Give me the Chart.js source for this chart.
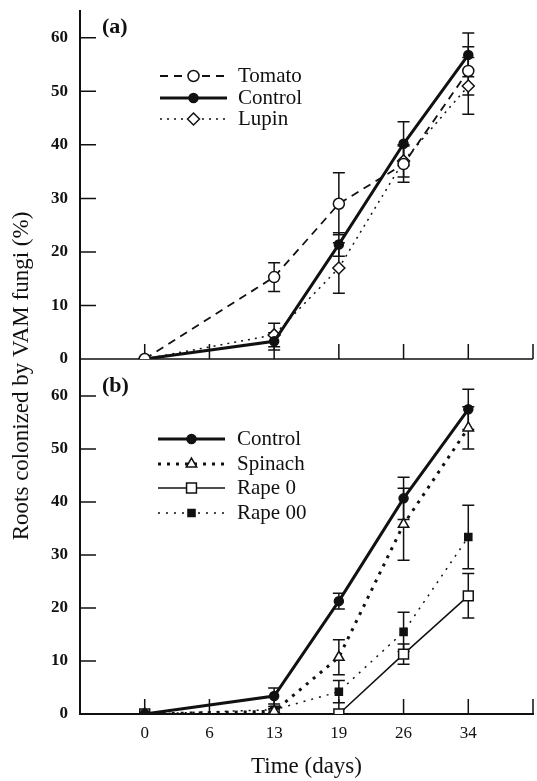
<!DOCTYPE html>
<html>
<head>
<meta charset="utf-8">
<script src="https://cdn.jsdelivr.net/npm/chart.js@4.4.0/dist/chart.umd.min.js"></script>
<style>
  html, body { margin: 0; padding: 0; background: #fff; }
</style>
</head>
<body>
<canvas id="vamChart" width="537" height="781"></canvas>
<script>
// x axis: days are spaced evenly, so each day gets an index slot
const dayLabels = ['0', '6', '13', '19', '26', '34'];
const sampleSlots = [0, 2, 3, 4, 5]; // slots of days 0, 13, 19, 26, 34

// panel (a)
const tomato = [0, 15.3, 29, 36.4, 53.8];
const tomatoErr = [0, 2.7, 5.8, 3.4, 4.5];
const controlA = [0, 3.3, 21.4, 40.2, 56.8];
const controlAErr = [0, 1.6, 2.2, 4.1, 4.1];
const lupin = [0, 4.5, 17, 37, 51];
const lupinErr = [0, 2.2, 4.7, 3, 5.3];

// panel (b)
const controlB = [0, 3.4, 21.3, 40.7, 57.5];
const controlBErr = [0, 1.5, 1.5, 4, 3.8];
const spinach = [0, 0.5, 10.7, 35.8, 54];
const spinachErr = [0, 0.5, 3.3, 6.8, 4];
const rape0 = [0, 0, 0, 11.3, 22.3];
const rape0Err = [0, 0, 0, 1.9, 4.2];
const rape00 = [0, 0.8, 4.2, 15.5, 33.4];
const rape00Err = [0, 0.6, 2.1, 3.7, 6];

const INK = '#111';
const SERIF = "'Liberation Serif', 'DejaVu Serif', serif";

const toPoints = values => values.map((v, i) => ({ x: sampleSlots[i], y: v }));

function series(label, values, errors, axis, style) {
    return Object.assign({
        label: label,
        data: toPoints(values),
        errors: errors,
        yAxisID: axis,
        borderColor: INK,
        pointBorderColor: INK,
        pointBorderWidth: 1.5,
        tension: 0,
    }, style);
}

const datasets = [
    series('Tomato', tomato, tomatoErr, 'yA', {
        borderWidth: 1.8, borderDash: [8, 6], pointStyle: 'circle', pointRadius: 5.5, pointBackgroundColor: '#fff',
    }),
    series('Control', controlA, controlAErr, 'yA', {
        borderWidth: 3, pointStyle: 'circle', pointRadius: 4.5, pointBackgroundColor: INK,
    }),
    series('Lupin', lupin, lupinErr, 'yA', {
        borderWidth: 1.5, borderDash: [2, 5], pointStyle: 'rectRot', pointRadius: 6, pointBackgroundColor: '#fff',
    }),
    series('Control', controlB, controlBErr, 'yB', {
        borderWidth: 3, pointStyle: 'circle', pointRadius: 4.5, pointBackgroundColor: INK,
    }),
    series('Spinach', spinach, spinachErr, 'yB', {
        borderWidth: 3, borderDash: [3, 6], pointStyle: 'triangle', pointRadius: 6, pointBackgroundColor: '#fff',
    }),
    series('Rape 0', rape0, rape0Err, 'yB', {
        borderWidth: 1.5, pointStyle: 'rect', pointRadius: 7, pointBackgroundColor: '#fff',
    }),
    series('Rape 00', rape00, rape00Err, 'yB', {
        borderWidth: 1.5, borderDash: [2, 6], pointStyle: 'rect', pointRadius: 5, pointBackgroundColor: INK,
    }),
];

// error bars with caps, drawn under the markers
const errorBars = {
    id: 'errorBars',
    beforeDatasetsDraw(chart) {
        const ctx = chart.ctx;
        ctx.save();
        ctx.strokeStyle = INK;
        ctx.lineWidth = 1.5;
        chart.data.datasets.forEach((ds, i) => {
            const meta = chart.getDatasetMeta(i);
            const yScale = chart.scales[ds.yAxisID];
            ds.errors.forEach((e, j) => {
                if (!e) return;
                const px = meta.data[j].x;
                const v = ds.data[j].y;
                const top = yScale.getPixelForValue(v + e);
                const bot = yScale.getPixelForValue(v - e);
                ctx.beginPath();
                ctx.moveTo(px, top); ctx.lineTo(px, bot);
                ctx.moveTo(px - 6, top); ctx.lineTo(px + 6, top);
                ctx.moveTo(px - 6, bot); ctx.lineTo(px + 6, bot);
                ctx.stroke();
            });
        });
        ctx.restore();
    }
};

// inward tick marks, and the x axis of panel (a)
const innerTicks = {
    id: 'innerTicks',
    beforeDatasetsDraw(chart) {
        const { ctx, chartArea, scales } = chart;
        const midY = scales.yA.getPixelForValue(0);
        ctx.save();
        ctx.strokeStyle = INK;
        ctx.lineWidth = 1.5;
        ctx.beginPath();
        ctx.moveTo(chartArea.left, midY);
        ctx.lineTo(chartArea.right, midY);
        scales.x.ticks.forEach(t => {
            if (t.value < 0) return;
            const px = scales.x.getPixelForValue(t.value);
            [midY, chartArea.bottom].forEach(base => {
                ctx.moveTo(px, base);
                ctx.lineTo(px, base - 15);
            });
        });
        [scales.yA, scales.yB].forEach(s => s.ticks.forEach(t => {
            if (t.value <= 0) return;
            const py = s.getPixelForValue(t.value);
            ctx.moveTo(chartArea.left, py);
            ctx.lineTo(chartArea.left + 16, py);
        }));
        ctx.stroke();
        ctx.restore();
    }
};

// panel letters, legends and the shared y title
const panelLegends = [
    { tag: '(a)', tagY: 33, lineX: [160, 227], textX: 238, rows: [[0, 76], [1, 98], [2, 119]] },
    { tag: '(b)', tagY: 392, lineX: [158, 225], textX: 237, rows: [[3, 439], [4, 464], [5, 488], [6, 513]] },
];

const annotations = {
    id: 'annotations',
    afterDraw(chart) {
        const ctx = chart.ctx;
        ctx.save();
        ctx.fillStyle = INK;
        ctx.strokeStyle = INK;
        panelLegends.forEach(p => {
            ctx.font = 'bold 22px ' + SERIF;
            ctx.textBaseline = 'alphabetic';
            ctx.textAlign = 'left';
            ctx.fillText(p.tag, 102, p.tagY);
            p.rows.forEach(([idx, y]) => {
                const ds = chart.data.datasets[idx];
                const mid = (p.lineX[0] + p.lineX[1]) / 2;
                ctx.lineWidth = ds.borderWidth;
                ctx.setLineDash(ds.borderDash || []);
                ctx.beginPath();
                ctx.moveTo(p.lineX[0], y);
                ctx.lineTo(p.lineX[1], y);
                ctx.stroke();
                ctx.setLineDash([]);
                ctx.fillStyle = ds.pointBackgroundColor;
                ctx.lineWidth = ds.pointBorderWidth;
                Chart.helpers.drawPoint(ctx, {
                    pointStyle: ds.pointStyle, radius: ds.pointRadius, rotation: 0, borderWidth: ds.pointBorderWidth,
                }, mid, y);
                ctx.fillStyle = INK;
                ctx.font = '21px ' + SERIF;
                ctx.fillText(ds.label, p.textX, y + 6);
            });
        });
        ctx.translate(22, 376);
        ctx.rotate(-Math.PI / 2);
        ctx.font = '23px ' + SERIF;
        ctx.textAlign = 'center';
        ctx.textBaseline = 'middle';
        ctx.fillText('Roots colonized by VAM fungi (%)', 0, 0);
        ctx.restore();
    }
};

const yAxis = (max, weight) => ({
    type: 'linear',
    position: 'left',
    stack: 'panels',
    stackWeight: weight,
    min: 0,
    max: max,
    grid: { display: false, drawTicks: false },
    border: { display: true, color: INK, width: 2 },
    ticks: {
        stepSize: 10,
        includeBounds: false,
        padding: 12,
        color: INK,
        font: { family: SERIF, size: 17, weight: 'bold' },
        callback: v => (v % 10 === 0 ? v : ''),
    },
    afterFit: scale => {
        scale.width = 80;
        scale.paddingTop = 11;
        scale.paddingBottom = 0;
    },
});

new Chart(document.getElementById('vamChart'), {
    type: 'line',
    data: { datasets: datasets },
    options: {
        responsive: false,
        animation: false,
        layout: { padding: 0, autoPadding: false },
        scales: {
            x: {
                type: 'linear',
                min: -1,
                max: 6,
                grid: { display: false, drawTicks: false },
                border: { display: true, color: INK, width: 2 },
                ticks: {
                    stepSize: 1,
                    padding: 9,
                    color: INK,
                    font: { family: SERIF, size: 17 },
                    callback: v => dayLabels[v] ?? '',
                },
                title: {
                    display: true,
                    text: 'Time (days)',
                    color: INK,
                    font: { family: SERIF, size: 23 },
                    padding: { top: 4, bottom: 0 },
                },
                afterFit: scale => {
                    scale.height = 67;
                    scale.paddingLeft = 0;
                    scale.paddingRight = 4;
                },
            },
            // stacked axes are placed bottom-up in definition order
            yB: yAxis(67, 355),
            yA: yAxis(65, 348),
        },
        plugins: {
            legend: { display: false },
            tooltip: { enabled: false },
        },
    },
    plugins: [innerTicks, errorBars, annotations],
});
</script>
</body>
</html>
